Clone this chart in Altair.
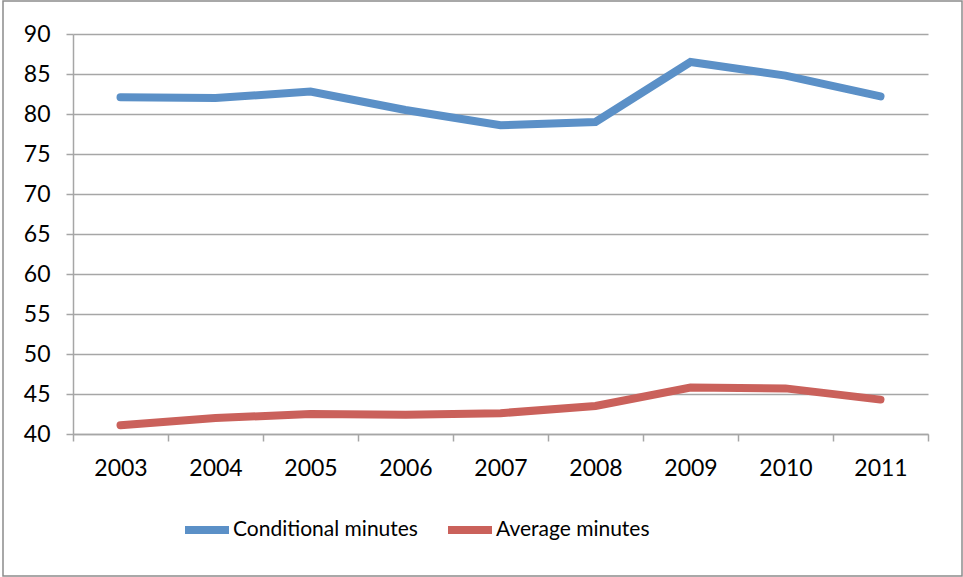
import altair as alt
import pandas as pd

# Minutes per year, 2003-2011
years = ["2003", "2004", "2005", "2006", "2007", "2008", "2009", "2010", "2011"]
conditional_minutes = [82.1, 82.0, 82.8, 80.5, 78.6, 79.0, 86.5, 84.8, 82.2]
average_minutes = [41.1, 42.0, 42.5, 42.4, 42.6, 43.5, 45.8, 45.7, 44.3]
series_names = ["Conditional minutes", "Average minutes"]
series_colors = ["#5B90C7", "#CA615B"]
y_ticks = [40, 45, 50, 55, 60, 65, 70, 75, 80, 85, 90]

rows = []
for name, values in zip(series_names, [conditional_minutes, average_minutes]):
    for yr, v in zip(years, values):
        rows.append({"year": yr, "minutes": v, "series": name})
df = pd.DataFrame(rows)

FONT = "Lato"
GRID = "#A6A6A6"

lines = alt.Chart(df).mark_line(strokeWidth=8, strokeCap="round", strokeJoin="miter").encode(
    x=alt.X(
        "year:O",
        bandPosition=0.5,
        scale=alt.Scale(type="band", paddingInner=0, paddingOuter=0),
        axis=alt.Axis(
            title=None,
            labelAngle=0,
            tickBand="extent",
            grid=False,
            domainColor=GRID,
            domainWidth=1.5,
            tickColor=GRID,
            tickWidth=1.5,
            tickSize=7,
            labelPadding=16,
            labelFont=FONT,
            labelFontSize=23,
            labelColor="#000000",
        ),
    ),
    y=alt.Y(
        "minutes:Q",
        scale=alt.Scale(domain=[40, 90], nice=False, zero=False),
        axis=alt.Axis(
            title=None,
            values=y_ticks,
            grid=True,
            gridColor=GRID,
            gridWidth=1.5,
            domainColor=GRID,
            domainWidth=1.5,
            tickColor=GRID,
            tickWidth=1.5,
            tickSize=7,
            labelPadding=16,
            labelFont=FONT,
            labelFontSize=23,
            labelColor="#000000",
        ),
    ),
    color=alt.Color(
        "series:N",
        scale=alt.Scale(domain=series_names, range=series_colors),
        legend=alt.Legend(
            title=None,
            orient="none",
            legendX=108,
            legendY=470,
            direction="horizontal",
            symbolType="stroke",
            symbolStrokeWidth=8,
            symbolSize=1936,
            labelFont=FONT,
            labelFontSize=21,
            labelLimit=400,
            labelColor="#000000",
            labelOffset=0,
            columnPadding=14,
        ),
    ),
)

# Thin grey frame around the whole chart
frame = alt.Chart(pd.DataFrame({"k": [0]})).mark_rect(
    fill=None, stroke="#8C8C8C", strokeWidth=1.5
).encode(
    x=alt.value(-70), x2=alt.value(889), y=alt.value(-33), y2=alt.value(542)
)

chart = alt.layer(lines, frame).properties(
    width=855,
    height=400,
    padding={"left": 73, "top": 34, "right": 35, "bottom": 143},
    autosize=alt.AutoSizeParams(type="none"),
    background="white",
).configure_view(stroke=None)

chart.save("out.html", embed_options={"renderer": "svg", "actions": False})
